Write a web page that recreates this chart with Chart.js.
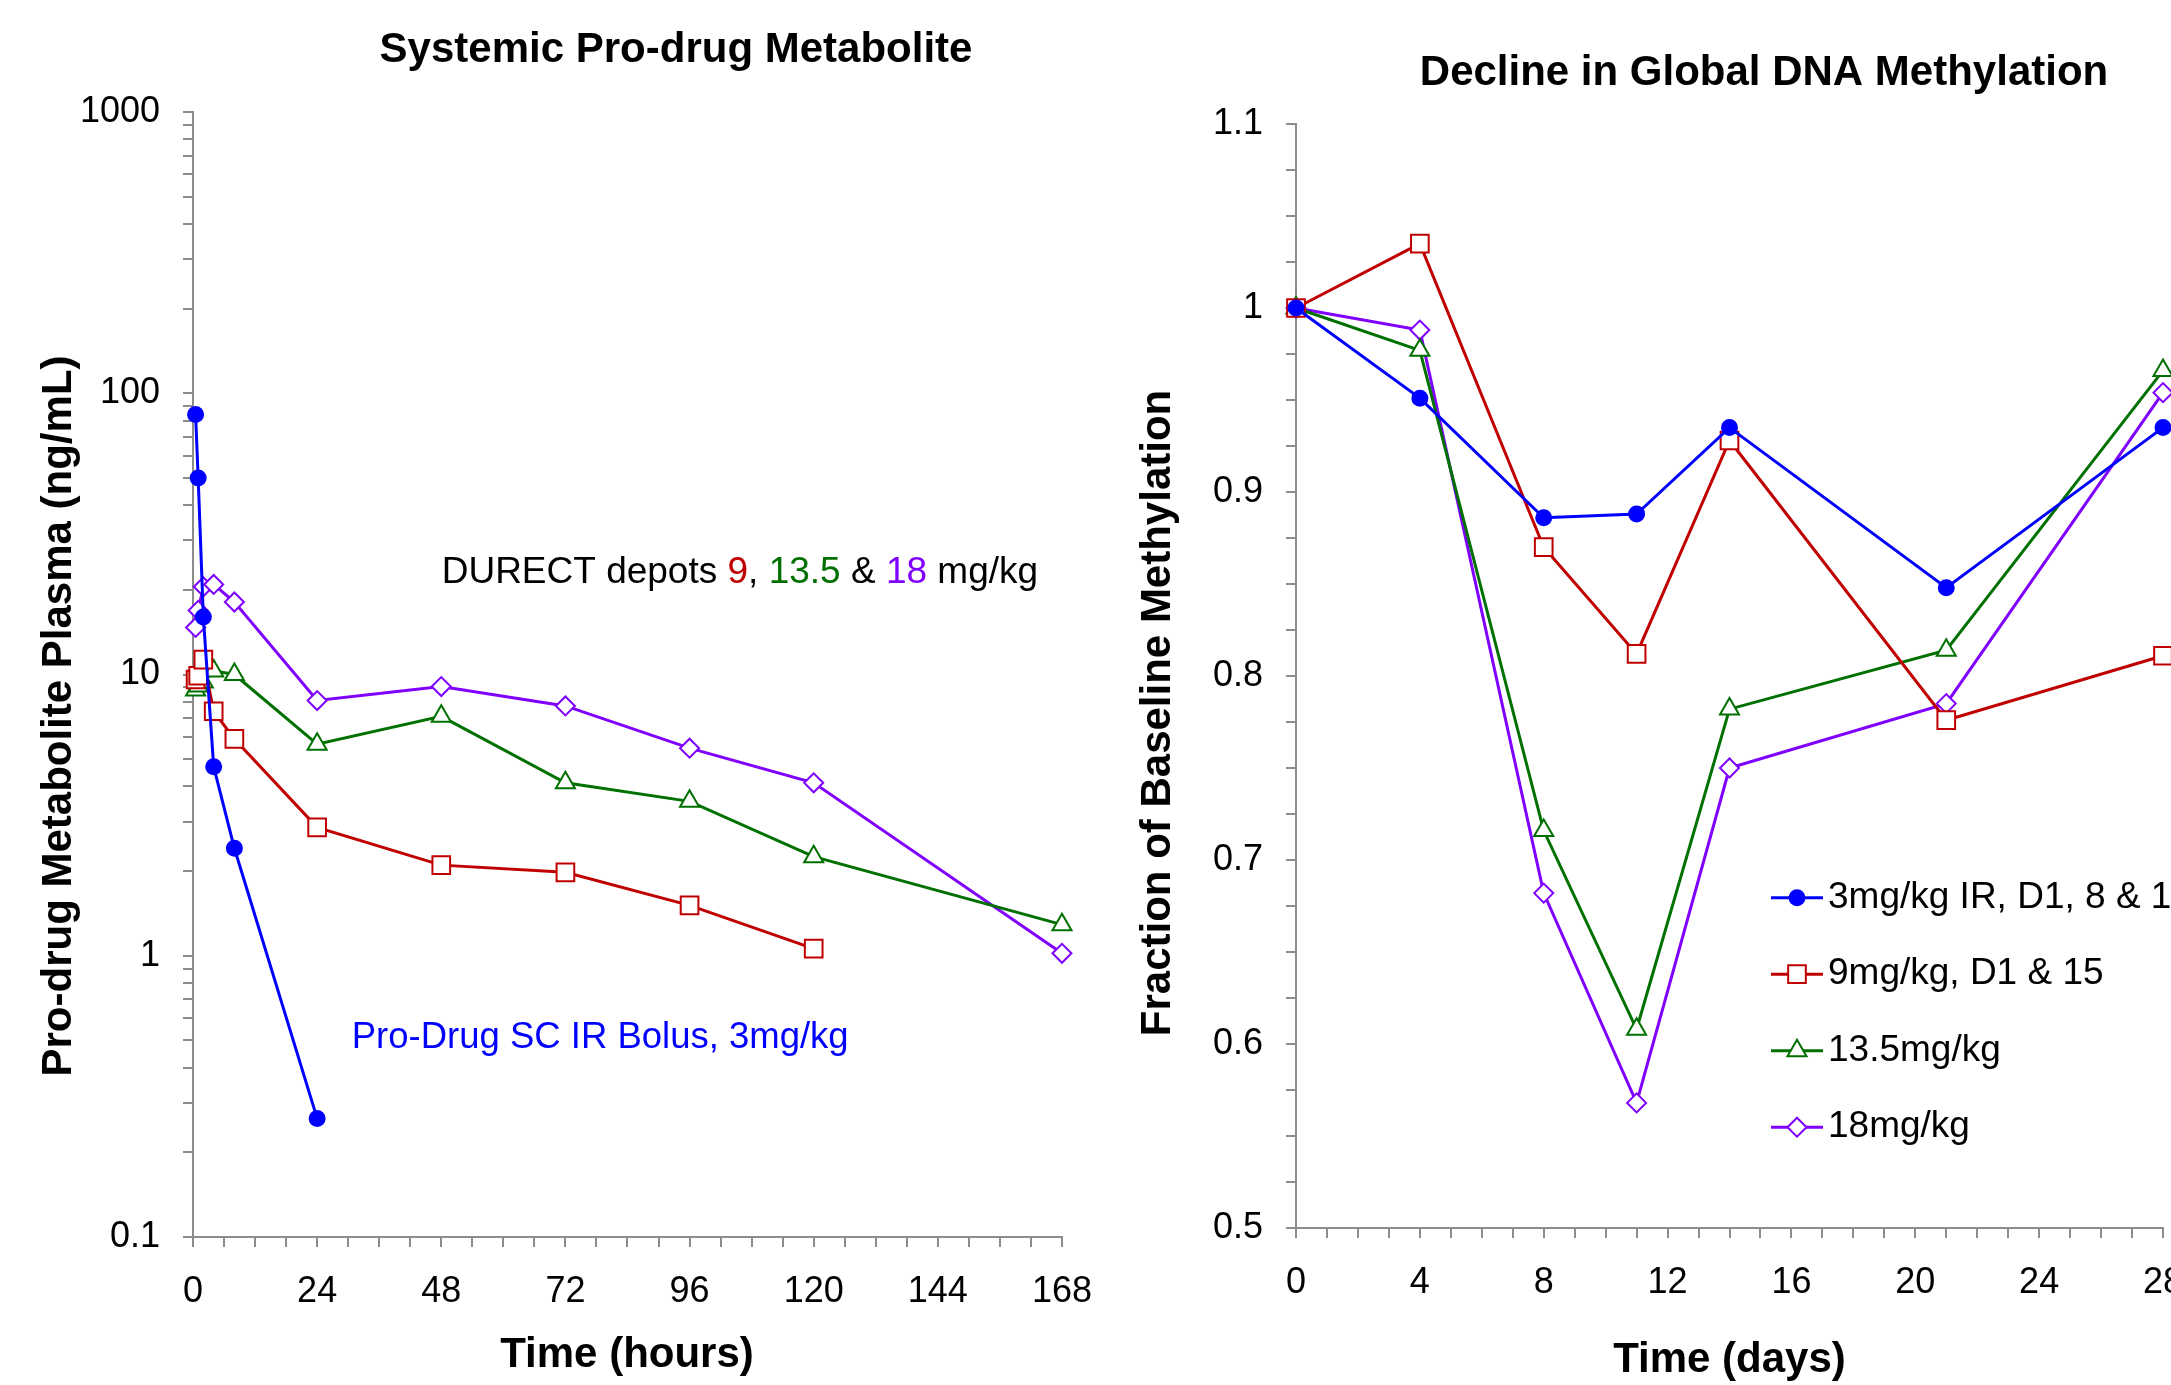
<!DOCTYPE html>
<html>
<head>
<meta charset="utf-8">
<script src="https://cdn.jsdelivr.net/npm/chart.js@4.4.1/dist/chart.umd.min.js"></script>
<style>
  html, body { margin: 0; padding: 0; background: #fff; overflow: hidden; width: 2171px; height: 1385px; }
  #pk { position: absolute; left: 0; top: 0; }
  #dna { position: absolute; left: 1100px; top: 0; }
</style>
</head>
<body>
<canvas id="pk" width="1115" height="1385"></canvas>
<canvas id="dna" width="1300" height="1385"></canvas>
<script>
(function () {
  "use strict";

  var FONT = "'Liberation Sans', Arial, Helvetica, sans-serif";
  var BLUE = "#0000ff", RED = "#c00000", GREEN = "#007000", PURPLE = "#7f00ff", AXIS = "#8c8c8c";

  // left panel: systemic metabolite (ng/mL) vs hours
  var hoursIR = [0.5, 1, 2, 4, 8, 24];
  var plasmaIR = [84, 50, 16, 4.7, 2.41, 0.264];
  var hours9 = [0.5, 1, 2, 4, 8, 24, 48, 72, 96, 120];
  var plasma9 = [9.6, 9.9, 11.3, 7.4, 5.9, 2.86, 2.1, 1.98, 1.51, 1.06];
  var hoursDepot = [0.5, 1, 2, 4, 8, 24, 48, 72, 96, 120, 168];
  var plasma13 = [8.8, 9.1, 9.4, 10.3, 10.0, 5.65, 7.1, 4.12, 3.54, 2.25, 1.29];
  var plasma18 = [14.7, 16.9, 20.5, 20.9, 18.1, 8.08, 9.06, 7.73, 5.47, 4.12, 1.02];
  var hourTicks = [0, 24, 48, 72, 96, 120, 144, 168];
  var logTicks = [0.1, 1, 10, 100, 1000];
  var logTickLabels = ["0.1", "1", "10", "100", "1000"];

  // right panel: fraction of baseline methylation vs days
  var days = [0, 4, 8, 11, 14, 21, 28];
  var meth3 = [1.0, 0.951, 0.886, 0.888, 0.935, 0.848, 0.935];
  var meth9 = [1.0, 1.035, 0.870, 0.812, 0.928, 0.776, 0.811];
  var meth13 = [1.0, 0.977, 0.716, 0.608, 0.782, 0.814, 0.966];
  var meth18 = [1.0, 0.988, 0.682, 0.568, 0.750, 0.785, 0.954];
  var dayTicks = [0, 4, 8, 12, 16, 20, 24, 28];
  var methTicks = [0.5, 0.6, 0.7, 0.8, 0.9, 1.0, 1.1];
  var methTickLabels = ["0.5", "0.6", "0.7", "0.8", "0.9", "1", "1.1"];
  var legendLabels = ["3mg/kg IR, D1, 8 & 15", "9mg/kg, D1 & 15", "13.5mg/kg", "18mg/kg"];

  function pts(xs, ys) {
    return ys.map(function (v, i) { return { x: xs[i], y: v }; });
  }

  function series(label, xs, ys, color, style, r, filled) {
    return {
      label: label, data: pts(xs, ys),
      borderColor: color, borderWidth: 3, tension: 0, showLine: true, clip: false,
      pointStyle: style, pointRadius: r, pointBorderWidth: 2,
      pointBorderColor: color, pointBackgroundColor: filled ? color : "#ffffff",
      backgroundColor: filled ? color : "#ffffff"
    };
  }

  function labelFor(values, labels, v) {
    for (var i = 0; i < values.length; i++) {
      if (Math.abs(values[i] - v) < 1e-6 * Math.max(1, values[i])) return labels[i];
    }
    return "";
  }

  var tickFont = { family: FONT, size: 36 };
  function axisGrid() {
    return { drawOnChartArea: false, drawTicks: true, tickLength: 10, color: AXIS, lineWidth: 2 };
  }

  // free text: titles, axis titles, annotations
  function textPlugin(items) {
    return {
      id: "texts",
      afterDraw: function (chart) {
        var ctx = chart.ctx;
        items.forEach(function (t) {
          ctx.save();
          ctx.translate(t.x, t.y);
          if (t.rot) ctx.rotate(t.rot);
          ctx.font = (t.bold ? "bold " : "") + t.size + "px " + FONT;
          ctx.textBaseline = t.base || "middle";
          ctx.textAlign = "left";
          var runs = t.runs || [[t.text, t.color || "#000"]];
          var total = runs.reduce(function (w, r) { return w + ctx.measureText(r[0]).width; }, 0);
          var x = t.align === "center" ? -total / 2 : 0;
          runs.forEach(function (r) {
            ctx.fillStyle = r[1];
            ctx.fillText(r[0], x, 0);
            x += ctx.measureText(r[0]).width;
          });
          ctx.restore();
        });
      }
    };
  }

  // excel-style legend: short line with the marker on it
  var legendPlugin = {
    id: "lineLegend",
    afterDraw: function (chart) {
      var ctx = chart.ctx;
      chart.data.datasets.forEach(function (ds, i) {
        var y = 897.7 + i * 76.5;
        ctx.save();
        ctx.strokeStyle = ds.borderColor; ctx.lineWidth = 3;
        ctx.beginPath(); ctx.moveTo(671, y); ctx.lineTo(723, y); ctx.stroke();
        ctx.fillStyle = ds.pointBackgroundColor; ctx.strokeStyle = ds.pointBorderColor; ctx.lineWidth = 2;
        Chart.helpers.drawPoint(ctx, { pointStyle: ds.pointStyle, radius: ds.pointRadius, borderWidth: 2, rotation: 0 }, 697, y);
        ctx.fillStyle = "#000";
        ctx.font = "37px " + FONT;
        ctx.textBaseline = "middle"; ctx.textAlign = "left";
        ctx.fillText(legendLabels[i], 728, y);
        ctx.restore();
      });
    }
  };

  new Chart(document.getElementById("pk"), {
    type: "line",
    data: {
      datasets: [
        series("Pro-Drug SC IR Bolus, 3mg/kg", hoursIR, plasmaIR, BLUE, "circle", 7.5, true),
        series("9 mg/kg", hours9, plasma9, RED, "rect", 12.5, false),
        series("13.5 mg/kg", hoursDepot, plasma13, GREEN, "triangle", 11, false),
        series("18 mg/kg", hoursDepot, plasma18, PURPLE, "rectRot", 9.5, false)
      ]
    },
    options: {
      responsive: false, animation: false, devicePixelRatio: 1, events: [],
      layout: { padding: { left: 0, right: 53, top: 112, bottom: 0 } },
      plugins: { legend: { display: false }, tooltip: { enabled: false }, title: { display: false } },
      scales: {
        x: {
          type: "linear", min: 0, max: 168,
          afterBuildTicks: function (s) {
            s.ticks = [];
            for (var h = 0; h <= 168; h += 6) s.ticks.push({ value: h });
          },
          afterFit: function (s) { s.height = 148; },
          ticks: {
            autoSkip: false, maxRotation: 0, padding: 23, color: "#000", font: tickFont,
            callback: function (v) { return hourTicks.indexOf(v) >= 0 ? String(v) : ""; }
          },
          grid: axisGrid(),
          border: { color: AXIS, width: 2 }
        },
        y: {
          type: "logarithmic", min: 0.1, max: 1000,
          afterBuildTicks: function (s) {
            s.ticks = [];
            for (var e = -1; e < 3; e++) {
              for (var m = 1; m < 10; m++) s.ticks.push({ value: m * Math.pow(10, e) });
            }
            s.ticks.push({ value: 1000 });
          },
          afterFit: function (s) { s.width = 193; },
          ticks: {
            autoSkip: false, padding: 23, color: "#000", font: tickFont,
            callback: function (v) { return labelFor(logTicks, logTickLabels, v); }
          },
          grid: axisGrid(),
          border: { color: AXIS, width: 2 }
        }
      }
    },
    plugins: [textPlugin([
      { text: "Systemic Pro-drug Metabolite", x: 676, y: 50, size: 42, bold: true, align: "center" },
      { text: "Pro-drug Metabolite Plasma (ng/mL)", x: 59, y: 716, size: 42, bold: true, align: "center", rot: -Math.PI / 2 },
      { text: "Time (hours)", x: 627, y: 1355, size: 42, bold: true, align: "center" },
      { x: 441.7, y: 583.3, size: 37, base: "alphabetic",
        runs: [["DURECT depots ", "#000"], ["9", RED], [", ", "#000"], ["13.5", GREEN], [" & ", "#000"], ["18", PURPLE], [" mg/kg", "#000"]] },
      { text: "Pro-Drug SC IR Bolus, 3mg/kg", color: BLUE, x: 351.7, y: 1048.3, size: 36.5, base: "alphabetic" }
    ])]
  });

  new Chart(document.getElementById("dna"), {
    type: "line",
    data: {
      datasets: [
        series(legendLabels[0], days, meth3, BLUE, "circle", 7.5, true),
        series(legendLabels[1], days, meth9, RED, "rect", 12.5, false),
        series(legendLabels[2], days, meth13, GREEN, "triangle", 11, false),
        series(legendLabels[3], days, meth18, PURPLE, "rectRot", 9.5, false)
      ]
    },
    options: {
      responsive: false, animation: false, devicePixelRatio: 1, events: [],
      layout: { padding: { left: 0, right: 237, top: 124, bottom: 0 } },
      plugins: { legend: { display: false }, tooltip: { enabled: false }, title: { display: false } },
      scales: {
        x: {
          type: "linear", min: 0, max: 28,
          afterBuildTicks: function (s) {
            s.ticks = [];
            for (var d = 0; d <= 28; d++) s.ticks.push({ value: d });
          },
          afterFit: function (s) { s.height = 157; },
          ticks: {
            autoSkip: false, maxRotation: 0, padding: 23, color: "#000", font: tickFont,
            callback: function (v) { return dayTicks.indexOf(v) >= 0 ? String(v) : ""; }
          },
          grid: axisGrid(),
          border: { color: AXIS, width: 2 }
        },
        y: {
          type: "linear", min: 0.5, max: 1.1,
          afterBuildTicks: function (s) {
            s.ticks = [];
            for (var k = 0; k <= 24; k++) s.ticks.push({ value: 0.5 + k * 0.025 });
          },
          afterFit: function (s) { s.width = 196; },
          ticks: {
            autoSkip: false, padding: 23, color: "#000", font: tickFont,
            callback: function (v) { return labelFor(methTicks, methTickLabels, v); }
          },
          grid: axisGrid(),
          border: { color: AXIS, width: 2 }
        }
      }
    },
    plugins: [legendPlugin, textPlugin([
      { text: "Decline in Global DNA Methylation", x: 664, y: 73.5, size: 42, bold: true, align: "center" },
      { text: "Fraction of Baseline Methylation", x: 58, y: 713, size: 42, bold: true, align: "center", rot: -Math.PI / 2 },
      { text: "Time (days)", x: 629.5, y: 1360, size: 42, bold: true, align: "center" }
    ])]
  });
})();
</script>
</body>
</html>
